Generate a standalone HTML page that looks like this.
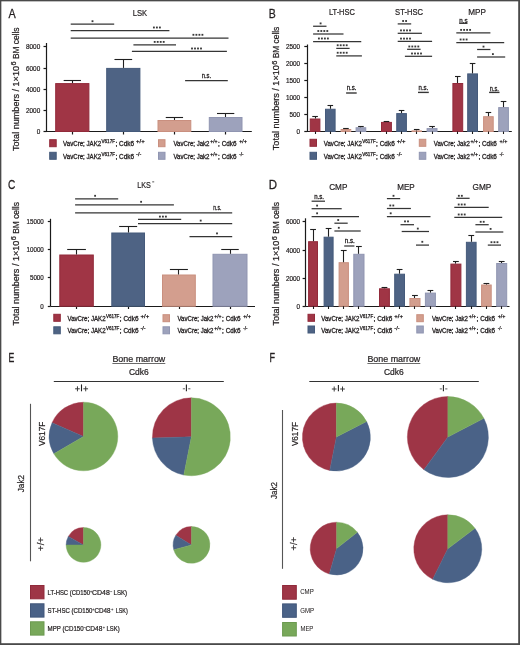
<!DOCTYPE html><html><head><meta charset="utf-8"><style>html,body{margin:0;padding:0;background:#fff;}svg{display:block;will-change:transform;font-family:"Liberation Sans",sans-serif;}</style></head><body>
<svg width="520" height="645" viewBox="0 0 520 645" font-family="Liberation Sans, sans-serif">
<rect x="0" y="0" width="520" height="645" fill="#fff"/>
<rect x="0" y="0" width="520" height="1.35" fill="#4a4a4a"/>
<rect x="0" y="0" width="1.35" height="645" fill="#4a4a4a"/>
<rect x="518.2" y="0" width="1.8" height="645" fill="#4a4a4a"/>
<rect x="0" y="643.2" width="520" height="1.8" fill="#4a4a4a"/>
<text x="8.4" y="17.5" font-size="13.2" text-anchor="start" fill="#231f20" stroke="#231f20" stroke-width="0.3" textLength="7.2" lengthAdjust="spacingAndGlyphs">A</text>
<text x="132.8" y="15.9" font-size="9.5" text-anchor="start" fill="#231f20" stroke="#231f20" stroke-width="0.22" textLength="14.4" lengthAdjust="spacingAndGlyphs">LSK</text>
<g transform="translate(18.6 151) rotate(-90)"><text x="0" y="0" font-size="9.8" fill="#231f20" stroke="#231f20" stroke-width="0.25" lengthAdjust="spacingAndGlyphs" textLength="85">Total numbers / 1×10</text><text x="85.4" y="-2.4" font-size="7.6" fill="#231f20" stroke="#231f20" stroke-width="0.25" lengthAdjust="spacingAndGlyphs" textLength="4.1">6</text><text x="91.9" y="0" font-size="9.8" fill="#231f20" stroke="#231f20" stroke-width="0.25" lengthAdjust="spacingAndGlyphs" textLength="31.6">BM cells</text></g>
<line x1="46.5" y1="43" x2="46.5" y2="131.5" stroke="#1a1a1a" stroke-width="1.2"/>
<line x1="43.5" y1="46.5" x2="46.5" y2="46.5" stroke="#1a1a1a" stroke-width="1.2"/>
<text x="40.2" y="49.349999999999994" font-size="7.1" text-anchor="end" fill="#231f20" stroke="#231f20" stroke-width="0.22" textLength="14.2" lengthAdjust="spacingAndGlyphs">8000</text>
<line x1="43.5" y1="68.5" x2="46.5" y2="68.5" stroke="#1a1a1a" stroke-width="1.2"/>
<text x="40.2" y="70.55" font-size="7.1" text-anchor="end" fill="#231f20" stroke="#231f20" stroke-width="0.22" textLength="14.2" lengthAdjust="spacingAndGlyphs">6000</text>
<line x1="43.5" y1="89.5" x2="46.5" y2="89.5" stroke="#1a1a1a" stroke-width="1.2"/>
<text x="40.2" y="91.75" font-size="7.1" text-anchor="end" fill="#231f20" stroke="#231f20" stroke-width="0.22" textLength="14.2" lengthAdjust="spacingAndGlyphs">4000</text>
<line x1="43.5" y1="110.5" x2="46.5" y2="110.5" stroke="#1a1a1a" stroke-width="1.2"/>
<text x="40.2" y="112.95" font-size="7.1" text-anchor="end" fill="#231f20" stroke="#231f20" stroke-width="0.22" textLength="14.2" lengthAdjust="spacingAndGlyphs">2000</text>
<line x1="43.5" y1="131.5" x2="46.5" y2="131.5" stroke="#1a1a1a" stroke-width="1.2"/>
<text x="40.2" y="134.05" font-size="7.1" text-anchor="end" fill="#231f20" stroke="#231f20" stroke-width="0.22" textLength="3.55" lengthAdjust="spacingAndGlyphs">0</text>
<line x1="46" y1="131.5" x2="251.8" y2="131.5" stroke="#1a1a1a" stroke-width="1.2"/>
<line x1="72.5" y1="131.5" x2="72.5" y2="134.5" stroke="#1a1a1a" stroke-width="1.2"/>
<line x1="123.5" y1="131.5" x2="123.5" y2="134.5" stroke="#1a1a1a" stroke-width="1.2"/>
<line x1="174.5" y1="131.5" x2="174.5" y2="134.5" stroke="#1a1a1a" stroke-width="1.2"/>
<line x1="225.5" y1="131.5" x2="225.5" y2="134.5" stroke="#1a1a1a" stroke-width="1.2"/>
<rect x="55.70" y="83.60" width="33.20" height="47.90" fill="#a03545" stroke="#922a3a" stroke-width="1"/>
<line x1="72.5" y1="80.2" x2="72.5" y2="83.1" stroke="#1f1f1f" stroke-width="1.1"/>
<line x1="63.65000000000001" y1="80.5" x2="80.95000000000002" y2="80.5" stroke="#1f1f1f" stroke-width="1.1"/>
<rect x="106.70" y="68.40" width="33.20" height="63.10" fill="#4e6384" stroke="#455a7b" stroke-width="1"/>
<line x1="123.5" y1="59.2" x2="123.5" y2="67.9" stroke="#1f1f1f" stroke-width="1.1"/>
<line x1="114.45000000000002" y1="59.5" x2="132.15" y2="59.5" stroke="#1f1f1f" stroke-width="1.1"/>
<rect x="158.00" y="120.50" width="32.80" height="11.00" fill="#d39e8e" stroke="#c98f7f" stroke-width="1"/>
<line x1="174.5" y1="117.5" x2="174.5" y2="120" stroke="#1f1f1f" stroke-width="1.1"/>
<line x1="165.75" y1="117.5" x2="183.05" y2="117.5" stroke="#1f1f1f" stroke-width="1.1"/>
<rect x="209.30" y="117.50" width="32.70" height="14.00" fill="#9da2bc" stroke="#9095b1" stroke-width="1"/>
<line x1="225.5" y1="113.3" x2="225.5" y2="117" stroke="#1f1f1f" stroke-width="1.1"/>
<line x1="217.0" y1="113.5" x2="234.3" y2="113.5" stroke="#1f1f1f" stroke-width="1.1"/>
<line x1="70.7" y1="24.2" x2="114.2" y2="24.2" stroke="#353535" stroke-width="1.25"/>
<rect x="91.58" y="20.28" width="1.84" height="1.84" fill="#3a3a3a"/>
<line x1="70.7" y1="30.5" x2="169.4" y2="30.5" stroke="#353535" stroke-width="1.25"/>
<rect x="152.98" y="26.58" width="1.84" height="1.84" fill="#3a3a3a"/>
<rect x="155.98" y="26.58" width="1.84" height="1.84" fill="#3a3a3a"/>
<rect x="158.98" y="26.58" width="1.84" height="1.84" fill="#3a3a3a"/>
<line x1="70.7" y1="38.0" x2="228.5" y2="38.0" stroke="#353535" stroke-width="1.25"/>
<rect x="192.48" y="33.88" width="1.84" height="1.84" fill="#3a3a3a"/>
<rect x="195.48" y="33.88" width="1.84" height="1.84" fill="#3a3a3a"/>
<rect x="198.48" y="33.88" width="1.84" height="1.84" fill="#3a3a3a"/>
<rect x="201.48" y="33.88" width="1.84" height="1.84" fill="#3a3a3a"/>
<line x1="133.4" y1="44.8" x2="176" y2="44.8" stroke="#353535" stroke-width="1.25"/>
<rect x="153.78" y="40.98" width="1.84" height="1.84" fill="#3a3a3a"/>
<rect x="156.78" y="40.98" width="1.84" height="1.84" fill="#3a3a3a"/>
<rect x="159.78" y="40.98" width="1.84" height="1.84" fill="#3a3a3a"/>
<rect x="162.78" y="40.98" width="1.84" height="1.84" fill="#3a3a3a"/>
<line x1="131.9" y1="51.3" x2="226.9" y2="51.3" stroke="#353535" stroke-width="1.25"/>
<rect x="191.08" y="47.58" width="1.84" height="1.84" fill="#3a3a3a"/>
<rect x="194.08" y="47.58" width="1.84" height="1.84" fill="#3a3a3a"/>
<rect x="197.08" y="47.58" width="1.84" height="1.84" fill="#3a3a3a"/>
<rect x="200.08" y="47.58" width="1.84" height="1.84" fill="#3a3a3a"/>
<line x1="185.1" y1="80.6" x2="227.8" y2="80.6" stroke="#353535" stroke-width="1.25"/>
<text x="206.35" y="78.2" font-size="6.7" text-anchor="middle" fill="#231f20" stroke="#231f20" stroke-width="0.3" textLength="9.3" lengthAdjust="spacingAndGlyphs">n.s.</text>
<rect x="49.70" y="139.70" width="6.50" height="7.00" fill="#a03545" stroke="#922a3a" stroke-width="1"/>
<text x="63.1" y="146" font-size="6.6" text-anchor="start" fill="#231f20" stroke="#231f20" stroke-width="0.3" textLength="38.1" lengthAdjust="spacingAndGlyphs">VavCre; JAK2</text>
<text x="101.5" y="143" font-size="4.6" text-anchor="start" fill="#231f20" stroke="#231f20" stroke-width="0.25" textLength="13.5" lengthAdjust="spacingAndGlyphs">V617F</text>
<text x="115.4" y="146" font-size="6.6" text-anchor="start" fill="#231f20" stroke="#231f20" stroke-width="0.3" textLength="18.7" lengthAdjust="spacingAndGlyphs">; Cdk6</text>
<text x="136.1" y="143" font-size="4.6" text-anchor="start" fill="#231f20" stroke="#231f20" stroke-width="0.25" textLength="8.7" lengthAdjust="spacingAndGlyphs">+/+</text>
<rect x="49.70" y="152.30" width="6.50" height="7.00" fill="#4e6384" stroke="#455a7b" stroke-width="1"/>
<text x="63.1" y="158.5" font-size="6.6" text-anchor="start" fill="#231f20" stroke="#231f20" stroke-width="0.3" textLength="38.1" lengthAdjust="spacingAndGlyphs">VavCre; JAK2</text>
<text x="101.5" y="155.5" font-size="4.6" text-anchor="start" fill="#231f20" stroke="#231f20" stroke-width="0.25" textLength="13.5" lengthAdjust="spacingAndGlyphs">V617F</text>
<text x="115.4" y="158.5" font-size="6.6" text-anchor="start" fill="#231f20" stroke="#231f20" stroke-width="0.3" textLength="18.7" lengthAdjust="spacingAndGlyphs">; Cdk6</text>
<text x="136.1" y="155.5" font-size="4.6" text-anchor="start" fill="#231f20" stroke="#231f20" stroke-width="0.25" textLength="5.2" lengthAdjust="spacingAndGlyphs">-/-</text>
<rect x="158.50" y="139.70" width="6.50" height="7.00" fill="#d39e8e" stroke="#c98f7f" stroke-width="1"/>
<text x="173.5" y="146" font-size="6.6" text-anchor="start" fill="#231f20" stroke="#231f20" stroke-width="0.3" textLength="36" lengthAdjust="spacingAndGlyphs">VavCre; Jak2</text>
<text x="210.2" y="143" font-size="4.6" text-anchor="start" fill="#231f20" stroke="#231f20" stroke-width="0.25" textLength="7.4" lengthAdjust="spacingAndGlyphs">+/+</text>
<text x="218.1" y="146" font-size="6.6" text-anchor="start" fill="#231f20" stroke="#231f20" stroke-width="0.3" textLength="18.5" lengthAdjust="spacingAndGlyphs">; Cdk6</text>
<text x="239.2" y="143" font-size="4.6" text-anchor="start" fill="#231f20" stroke="#231f20" stroke-width="0.25" textLength="7.8" lengthAdjust="spacingAndGlyphs">+/+</text>
<rect x="158.50" y="152.30" width="6.50" height="7.00" fill="#9da2bc" stroke="#9095b1" stroke-width="1"/>
<text x="173.5" y="158.5" font-size="6.6" text-anchor="start" fill="#231f20" stroke="#231f20" stroke-width="0.3" textLength="36" lengthAdjust="spacingAndGlyphs">VavCre; Jak2</text>
<text x="210.2" y="155.5" font-size="4.6" text-anchor="start" fill="#231f20" stroke="#231f20" stroke-width="0.25" textLength="7.4" lengthAdjust="spacingAndGlyphs">+/+</text>
<text x="218.1" y="158.5" font-size="6.6" text-anchor="start" fill="#231f20" stroke="#231f20" stroke-width="0.3" textLength="18.5" lengthAdjust="spacingAndGlyphs">; Cdk6</text>
<text x="239.2" y="155.5" font-size="4.6" text-anchor="start" fill="#231f20" stroke="#231f20" stroke-width="0.25" textLength="4.3" lengthAdjust="spacingAndGlyphs">-/-</text>
<text x="268.7" y="17.5" font-size="13.2" text-anchor="start" fill="#231f20" stroke="#231f20" stroke-width="0.3" textLength="7" lengthAdjust="spacingAndGlyphs">B</text>
<text x="328.9" y="15.2" font-size="9.4" text-anchor="start" fill="#231f20" stroke="#231f20" stroke-width="0.22" textLength="26" lengthAdjust="spacingAndGlyphs">LT-HSC</text>
<text x="395.1" y="15.2" font-size="9.4" text-anchor="start" fill="#231f20" stroke="#231f20" stroke-width="0.22" textLength="27.9" lengthAdjust="spacingAndGlyphs">ST-HSC</text>
<text x="468.2" y="15.2" font-size="9.4" text-anchor="start" fill="#231f20" stroke="#231f20" stroke-width="0.22" textLength="17.7" lengthAdjust="spacingAndGlyphs">MPP</text>
<g transform="translate(278.9 150.2) rotate(-90)"><text x="0" y="0" font-size="9.8" fill="#231f20" stroke="#231f20" stroke-width="0.25" lengthAdjust="spacingAndGlyphs" textLength="85">Total numbers / 1×10</text><text x="85.4" y="-2.4" font-size="7.6" fill="#231f20" stroke="#231f20" stroke-width="0.25" lengthAdjust="spacingAndGlyphs" textLength="4.1">6</text><text x="91.9" y="0" font-size="9.8" fill="#231f20" stroke="#231f20" stroke-width="0.25" lengthAdjust="spacingAndGlyphs" textLength="31.6">BM cells</text></g>
<line x1="307.5" y1="44.5" x2="307.5" y2="131.5" stroke="#1a1a1a" stroke-width="1.2"/>
<line x1="304.3" y1="46.5" x2="307.3" y2="46.5" stroke="#1a1a1a" stroke-width="1.2"/>
<text x="300.1" y="49.05" font-size="7.1" text-anchor="end" fill="#231f20" stroke="#231f20" stroke-width="0.22" textLength="14.2" lengthAdjust="spacingAndGlyphs">2500</text>
<line x1="304.3" y1="63.5" x2="307.3" y2="63.5" stroke="#1a1a1a" stroke-width="1.2"/>
<text x="300.1" y="66.05" font-size="7.1" text-anchor="end" fill="#231f20" stroke="#231f20" stroke-width="0.22" textLength="14.2" lengthAdjust="spacingAndGlyphs">2000</text>
<line x1="304.3" y1="80.5" x2="307.3" y2="80.5" stroke="#1a1a1a" stroke-width="1.2"/>
<text x="300.1" y="83.05" font-size="7.1" text-anchor="end" fill="#231f20" stroke="#231f20" stroke-width="0.22" textLength="14.2" lengthAdjust="spacingAndGlyphs">1500</text>
<line x1="304.3" y1="97.5" x2="307.3" y2="97.5" stroke="#1a1a1a" stroke-width="1.2"/>
<text x="300.1" y="100.05" font-size="7.1" text-anchor="end" fill="#231f20" stroke="#231f20" stroke-width="0.22" textLength="14.2" lengthAdjust="spacingAndGlyphs">1000</text>
<line x1="304.3" y1="114.5" x2="307.3" y2="114.5" stroke="#1a1a1a" stroke-width="1.2"/>
<text x="300.1" y="117.05" font-size="7.1" text-anchor="end" fill="#231f20" stroke="#231f20" stroke-width="0.22" textLength="10.649999999999999" lengthAdjust="spacingAndGlyphs">500</text>
<line x1="304.3" y1="131.5" x2="307.3" y2="131.5" stroke="#1a1a1a" stroke-width="1.2"/>
<text x="300.1" y="133.85000000000002" font-size="7.1" text-anchor="end" fill="#231f20" stroke="#231f20" stroke-width="0.22" textLength="3.55" lengthAdjust="spacingAndGlyphs">0</text>
<line x1="307" y1="131.5" x2="511.8" y2="131.5" stroke="#1a1a1a" stroke-width="1.2"/>
<rect x="310.25" y="119.00" width="9.65" height="12.50" fill="#a03545" stroke="#922a3a" stroke-width="1"/>
<line x1="315.5" y1="116.9" x2="315.5" y2="118.5" stroke="#1f1f1f" stroke-width="1.1"/>
<line x1="312.275" y1="116.5" x2="317.875" y2="116.5" stroke="#1f1f1f" stroke-width="1.1"/>
<line x1="315.5" y1="131.5" x2="315.5" y2="134" stroke="#1a1a1a" stroke-width="1.1"/>
<rect x="325.50" y="109.25" width="9.60" height="22.25" fill="#4e6384" stroke="#455a7b" stroke-width="1"/>
<line x1="330.5" y1="105.25" x2="330.5" y2="108.75" stroke="#1f1f1f" stroke-width="1.1"/>
<line x1="327.5" y1="105.5" x2="333.1" y2="105.5" stroke="#1f1f1f" stroke-width="1.1"/>
<line x1="330.5" y1="131.5" x2="330.5" y2="134" stroke="#1a1a1a" stroke-width="1.1"/>
<rect x="341.10" y="129.50" width="9.65" height="2.00" fill="#d39e8e" stroke="#c98f7f" stroke-width="1"/>
<line x1="345.5" y1="128.1" x2="345.5" y2="129" stroke="#1f1f1f" stroke-width="1.1"/>
<line x1="343.125" y1="128.5" x2="348.725" y2="128.5" stroke="#1f1f1f" stroke-width="1.1"/>
<line x1="345.5" y1="131.5" x2="345.5" y2="134" stroke="#1a1a1a" stroke-width="1.1"/>
<rect x="356.10" y="127.75" width="9.65" height="3.75" fill="#9da2bc" stroke="#9095b1" stroke-width="1"/>
<line x1="360.5" y1="126.25" x2="360.5" y2="127.25" stroke="#1f1f1f" stroke-width="1.1"/>
<line x1="358.125" y1="126.5" x2="363.725" y2="126.5" stroke="#1f1f1f" stroke-width="1.1"/>
<line x1="360.5" y1="131.5" x2="360.5" y2="134" stroke="#1a1a1a" stroke-width="1.1"/>
<rect x="381.50" y="122.40" width="9.90" height="9.10" fill="#a03545" stroke="#922a3a" stroke-width="1"/>
<line x1="386.5" y1="121.25" x2="386.5" y2="121.9" stroke="#1f1f1f" stroke-width="1.1"/>
<line x1="383.65" y1="121.5" x2="389.25" y2="121.5" stroke="#1f1f1f" stroke-width="1.1"/>
<line x1="386.5" y1="131.5" x2="386.5" y2="134" stroke="#1a1a1a" stroke-width="1.1"/>
<rect x="396.75" y="113.60" width="9.65" height="17.90" fill="#4e6384" stroke="#455a7b" stroke-width="1"/>
<line x1="401.5" y1="110.9" x2="401.5" y2="113.1" stroke="#1f1f1f" stroke-width="1.1"/>
<line x1="398.775" y1="110.5" x2="404.375" y2="110.5" stroke="#1f1f1f" stroke-width="1.1"/>
<line x1="401.5" y1="131.5" x2="401.5" y2="134" stroke="#1a1a1a" stroke-width="1.1"/>
<rect x="412.00" y="130.90" width="9.40" height="0.60" fill="#d39e8e" stroke="#c98f7f" stroke-width="1"/>
<line x1="416.5" y1="129" x2="416.5" y2="130.4" stroke="#1f1f1f" stroke-width="1.1"/>
<line x1="413.9" y1="129.5" x2="419.5" y2="129.5" stroke="#1f1f1f" stroke-width="1.1"/>
<line x1="416.5" y1="131.5" x2="416.5" y2="134" stroke="#1a1a1a" stroke-width="1.1"/>
<rect x="427.10" y="128.60" width="9.90" height="2.90" fill="#9da2bc" stroke="#9095b1" stroke-width="1"/>
<line x1="432.5" y1="126.9" x2="432.5" y2="128.1" stroke="#1f1f1f" stroke-width="1.1"/>
<line x1="429.25" y1="126.5" x2="434.85" y2="126.5" stroke="#1f1f1f" stroke-width="1.1"/>
<line x1="432.5" y1="131.5" x2="432.5" y2="134" stroke="#1a1a1a" stroke-width="1.1"/>
<rect x="452.90" y="83.50" width="9.80" height="48.00" fill="#a03545" stroke="#922a3a" stroke-width="1"/>
<line x1="457.5" y1="76.3" x2="457.5" y2="83" stroke="#1f1f1f" stroke-width="1.1"/>
<line x1="454.99999999999994" y1="76.5" x2="460.59999999999997" y2="76.5" stroke="#1f1f1f" stroke-width="1.1"/>
<line x1="457.5" y1="131.5" x2="457.5" y2="134" stroke="#1a1a1a" stroke-width="1.1"/>
<rect x="467.70" y="73.90" width="9.80" height="57.60" fill="#4e6384" stroke="#455a7b" stroke-width="1"/>
<line x1="472.5" y1="63.3" x2="472.5" y2="73.4" stroke="#1f1f1f" stroke-width="1.1"/>
<line x1="469.8" y1="63.5" x2="475.40000000000003" y2="63.5" stroke="#1f1f1f" stroke-width="1.1"/>
<line x1="472.5" y1="131.5" x2="472.5" y2="134" stroke="#1a1a1a" stroke-width="1.1"/>
<rect x="483.60" y="116.70" width="9.60" height="14.80" fill="#d39e8e" stroke="#c98f7f" stroke-width="1"/>
<line x1="488.5" y1="112.6" x2="488.5" y2="116.2" stroke="#1f1f1f" stroke-width="1.1"/>
<line x1="485.59999999999997" y1="112.5" x2="491.2" y2="112.5" stroke="#1f1f1f" stroke-width="1.1"/>
<line x1="488.5" y1="131.5" x2="488.5" y2="134" stroke="#1a1a1a" stroke-width="1.1"/>
<rect x="498.70" y="107.60" width="9.70" height="23.90" fill="#9da2bc" stroke="#9095b1" stroke-width="1"/>
<line x1="503.5" y1="101.7" x2="503.5" y2="107.1" stroke="#1f1f1f" stroke-width="1.1"/>
<line x1="500.74999999999994" y1="101.5" x2="506.34999999999997" y2="101.5" stroke="#1f1f1f" stroke-width="1.1"/>
<line x1="503.5" y1="131.5" x2="503.5" y2="134" stroke="#1a1a1a" stroke-width="1.1"/>
<line x1="313.1" y1="26.25" x2="326.5" y2="26.25" stroke="#353535" stroke-width="1.25"/>
<rect x="319.68" y="22.48" width="1.84" height="1.84" fill="#3a3a3a"/>
<line x1="313.1" y1="34" x2="343.5" y2="34" stroke="#353535" stroke-width="1.25"/>
<rect x="317.38" y="30.08" width="1.84" height="1.84" fill="#3a3a3a"/>
<rect x="320.38" y="30.08" width="1.84" height="1.84" fill="#3a3a3a"/>
<rect x="323.38" y="30.08" width="1.84" height="1.84" fill="#3a3a3a"/>
<rect x="326.38" y="30.08" width="1.84" height="1.84" fill="#3a3a3a"/>
<line x1="313.1" y1="41.5" x2="361.25" y2="41.5" stroke="#353535" stroke-width="1.25"/>
<rect x="317.98" y="37.58" width="1.84" height="1.84" fill="#3a3a3a"/>
<rect x="320.98" y="37.58" width="1.84" height="1.84" fill="#3a3a3a"/>
<rect x="323.98" y="37.58" width="1.84" height="1.84" fill="#3a3a3a"/>
<rect x="326.98" y="37.58" width="1.84" height="1.84" fill="#3a3a3a"/>
<line x1="336.25" y1="48.4" x2="349.6" y2="48.4" stroke="#353535" stroke-width="1.25"/>
<rect x="336.78" y="44.33" width="1.84" height="1.84" fill="#3a3a3a"/>
<rect x="339.78" y="44.33" width="1.84" height="1.84" fill="#3a3a3a"/>
<rect x="342.78" y="44.33" width="1.84" height="1.84" fill="#3a3a3a"/>
<rect x="345.78" y="44.33" width="1.84" height="1.84" fill="#3a3a3a"/>
<line x1="336.25" y1="55.9" x2="361.9" y2="55.9" stroke="#353535" stroke-width="1.25"/>
<rect x="336.78" y="51.83" width="1.84" height="1.84" fill="#3a3a3a"/>
<rect x="339.78" y="51.83" width="1.84" height="1.84" fill="#3a3a3a"/>
<rect x="342.78" y="51.83" width="1.84" height="1.84" fill="#3a3a3a"/>
<rect x="345.78" y="51.83" width="1.84" height="1.84" fill="#3a3a3a"/>
<line x1="346.1" y1="93" x2="356.7" y2="93" stroke="#353535" stroke-width="1.4"/>
<text x="351.6" y="90.4" font-size="6.8" text-anchor="middle" fill="#231f20" stroke="#231f20" stroke-width="0.3" textLength="9.8" lengthAdjust="spacingAndGlyphs">n.s.</text>
<line x1="397.7" y1="23.9" x2="411.2" y2="23.9" stroke="#353535" stroke-width="1.25"/>
<rect x="402.18" y="20.08" width="1.84" height="1.84" fill="#3a3a3a"/>
<rect x="405.18" y="20.08" width="1.84" height="1.84" fill="#3a3a3a"/>
<line x1="397.7" y1="33.3" x2="421.9" y2="33.3" stroke="#353535" stroke-width="1.25"/>
<rect x="400.08" y="29.48" width="1.84" height="1.84" fill="#3a3a3a"/>
<rect x="403.08" y="29.48" width="1.84" height="1.84" fill="#3a3a3a"/>
<rect x="406.08" y="29.48" width="1.84" height="1.84" fill="#3a3a3a"/>
<rect x="409.08" y="29.48" width="1.84" height="1.84" fill="#3a3a3a"/>
<line x1="397.7" y1="41.4" x2="432.1" y2="41.4" stroke="#353535" stroke-width="1.25"/>
<rect x="400.08" y="37.68" width="1.84" height="1.84" fill="#3a3a3a"/>
<rect x="403.08" y="37.68" width="1.84" height="1.84" fill="#3a3a3a"/>
<rect x="406.08" y="37.68" width="1.84" height="1.84" fill="#3a3a3a"/>
<rect x="409.08" y="37.68" width="1.84" height="1.84" fill="#3a3a3a"/>
<line x1="407.1" y1="49.3" x2="420.6" y2="49.3" stroke="#353535" stroke-width="1.25"/>
<rect x="408.38" y="45.58" width="1.84" height="1.84" fill="#3a3a3a"/>
<rect x="411.38" y="45.58" width="1.84" height="1.84" fill="#3a3a3a"/>
<rect x="414.38" y="45.58" width="1.84" height="1.84" fill="#3a3a3a"/>
<rect x="417.38" y="45.58" width="1.84" height="1.84" fill="#3a3a3a"/>
<line x1="404.9" y1="56.3" x2="432.1" y2="56.3" stroke="#353535" stroke-width="1.25"/>
<rect x="411.08" y="52.58" width="1.84" height="1.84" fill="#3a3a3a"/>
<rect x="414.08" y="52.58" width="1.84" height="1.84" fill="#3a3a3a"/>
<rect x="417.08" y="52.58" width="1.84" height="1.84" fill="#3a3a3a"/>
<rect x="420.08" y="52.58" width="1.84" height="1.84" fill="#3a3a3a"/>
<line x1="418" y1="92.4" x2="428.8" y2="92.4" stroke="#353535" stroke-width="1.4"/>
<text x="423.4" y="90.0" font-size="6.8" text-anchor="middle" fill="#231f20" stroke="#231f20" stroke-width="0.3" textLength="9.8" lengthAdjust="spacingAndGlyphs">n.s.</text>
<line x1="459.2" y1="23.4" x2="467.5" y2="23.4" stroke="#353535" stroke-width="1.1"/>
<text x="463.35" y="22.6" font-size="6.6" text-anchor="middle" fill="#231f20" stroke="#231f20" stroke-width="0.3" textLength="8.3" lengthAdjust="spacingAndGlyphs">n.s</text>
<line x1="456.3" y1="32.8" x2="490.4" y2="32.8" stroke="#353535" stroke-width="1.25"/>
<rect x="460.18" y="28.98" width="1.84" height="1.84" fill="#3a3a3a"/>
<rect x="463.18" y="28.98" width="1.84" height="1.84" fill="#3a3a3a"/>
<rect x="466.18" y="28.98" width="1.84" height="1.84" fill="#3a3a3a"/>
<rect x="469.18" y="28.98" width="1.84" height="1.84" fill="#3a3a3a"/>
<line x1="456.3" y1="42.6" x2="504.2" y2="42.6" stroke="#353535" stroke-width="1.25"/>
<rect x="459.68" y="38.58" width="1.84" height="1.84" fill="#3a3a3a"/>
<rect x="462.68" y="38.58" width="1.84" height="1.84" fill="#3a3a3a"/>
<rect x="465.68" y="38.58" width="1.84" height="1.84" fill="#3a3a3a"/>
<line x1="477.1" y1="49.5" x2="490.4" y2="49.5" stroke="#353535" stroke-width="1.25"/>
<rect x="482.58" y="45.68" width="1.84" height="1.84" fill="#3a3a3a"/>
<line x1="477.1" y1="57" x2="505.2" y2="57" stroke="#353535" stroke-width="1.25"/>
<rect x="491.98" y="53.18" width="1.84" height="1.84" fill="#3a3a3a"/>
<line x1="489.1" y1="92.4" x2="499.5" y2="92.4" stroke="#353535" stroke-width="1.4"/>
<text x="494.3" y="90.7" font-size="6.6" text-anchor="middle" fill="#231f20" stroke="#231f20" stroke-width="0.3" textLength="9" lengthAdjust="spacingAndGlyphs">n.s.</text>
<rect x="310.00" y="139.30" width="6.50" height="7.00" fill="#a03545" stroke="#922a3a" stroke-width="1"/>
<text x="323.8" y="146" font-size="6.6" text-anchor="start" fill="#231f20" stroke="#231f20" stroke-width="0.3" textLength="38.1" lengthAdjust="spacingAndGlyphs">VavCre; JAK2</text>
<text x="362.2" y="143" font-size="4.6" text-anchor="start" fill="#231f20" stroke="#231f20" stroke-width="0.25" textLength="13.5" lengthAdjust="spacingAndGlyphs">V617F</text>
<text x="376.1" y="146" font-size="6.6" text-anchor="start" fill="#231f20" stroke="#231f20" stroke-width="0.3" textLength="18.7" lengthAdjust="spacingAndGlyphs">; Cdk6</text>
<text x="396.8" y="143" font-size="4.6" text-anchor="start" fill="#231f20" stroke="#231f20" stroke-width="0.25" textLength="8.7" lengthAdjust="spacingAndGlyphs">+/+</text>
<rect x="310.00" y="152.30" width="6.50" height="7.00" fill="#4e6384" stroke="#455a7b" stroke-width="1"/>
<text x="323.8" y="158.5" font-size="6.6" text-anchor="start" fill="#231f20" stroke="#231f20" stroke-width="0.3" textLength="38.1" lengthAdjust="spacingAndGlyphs">VavCre; JAK2</text>
<text x="362.2" y="155.5" font-size="4.6" text-anchor="start" fill="#231f20" stroke="#231f20" stroke-width="0.25" textLength="13.5" lengthAdjust="spacingAndGlyphs">V617F</text>
<text x="376.1" y="158.5" font-size="6.6" text-anchor="start" fill="#231f20" stroke="#231f20" stroke-width="0.3" textLength="18.7" lengthAdjust="spacingAndGlyphs">; Cdk6</text>
<text x="396.8" y="155.5" font-size="4.6" text-anchor="start" fill="#231f20" stroke="#231f20" stroke-width="0.25" textLength="5.2" lengthAdjust="spacingAndGlyphs">-/-</text>
<rect x="419.30" y="139.30" width="6.50" height="7.00" fill="#d39e8e" stroke="#c98f7f" stroke-width="1"/>
<text x="433.8" y="146" font-size="6.6" text-anchor="start" fill="#231f20" stroke="#231f20" stroke-width="0.3" textLength="36" lengthAdjust="spacingAndGlyphs">VavCre; Jak2</text>
<text x="470.5" y="143" font-size="4.6" text-anchor="start" fill="#231f20" stroke="#231f20" stroke-width="0.25" textLength="7.4" lengthAdjust="spacingAndGlyphs">+/+</text>
<text x="478.40000000000003" y="146" font-size="6.6" text-anchor="start" fill="#231f20" stroke="#231f20" stroke-width="0.3" textLength="18.5" lengthAdjust="spacingAndGlyphs">; Cdk6</text>
<text x="499.5" y="143" font-size="4.6" text-anchor="start" fill="#231f20" stroke="#231f20" stroke-width="0.25" textLength="7.8" lengthAdjust="spacingAndGlyphs">+/+</text>
<rect x="419.30" y="152.30" width="6.50" height="7.00" fill="#9da2bc" stroke="#9095b1" stroke-width="1"/>
<text x="433.8" y="158.5" font-size="6.6" text-anchor="start" fill="#231f20" stroke="#231f20" stroke-width="0.3" textLength="36" lengthAdjust="spacingAndGlyphs">VavCre; Jak2</text>
<text x="470.5" y="155.5" font-size="4.6" text-anchor="start" fill="#231f20" stroke="#231f20" stroke-width="0.25" textLength="7.4" lengthAdjust="spacingAndGlyphs">+/+</text>
<text x="478.40000000000003" y="158.5" font-size="6.6" text-anchor="start" fill="#231f20" stroke="#231f20" stroke-width="0.3" textLength="18.5" lengthAdjust="spacingAndGlyphs">; Cdk6</text>
<text x="499.5" y="155.5" font-size="4.6" text-anchor="start" fill="#231f20" stroke="#231f20" stroke-width="0.25" textLength="4.3" lengthAdjust="spacingAndGlyphs">-/-</text>
<text x="8.1" y="188.6" font-size="13.2" text-anchor="start" fill="#231f20" stroke="#231f20" stroke-width="0.3" textLength="7.3" lengthAdjust="spacingAndGlyphs">C</text>
<text x="137.3" y="188.1" font-size="9.3" text-anchor="start" fill="#231f20" stroke="#231f20" stroke-width="0.2" textLength="13.6" lengthAdjust="spacingAndGlyphs">LKS</text>
<rect x="152.2" y="181.3" width="2" height="1.1" fill="#666"/>
<g transform="translate(18.6 325.6) rotate(-90)"><text x="0" y="0" font-size="9.8" fill="#231f20" stroke="#231f20" stroke-width="0.25" lengthAdjust="spacingAndGlyphs" textLength="85">Total numbers / 1×10</text><text x="85.4" y="-2.4" font-size="7.6" fill="#231f20" stroke="#231f20" stroke-width="0.25" lengthAdjust="spacingAndGlyphs" textLength="4.1">6</text><text x="91.9" y="0" font-size="9.8" fill="#231f20" stroke="#231f20" stroke-width="0.25" lengthAdjust="spacingAndGlyphs" textLength="31.6">BM cells</text></g>
<line x1="50.5" y1="218.8" x2="50.5" y2="306.2" stroke="#1a1a1a" stroke-width="1.2"/>
<line x1="47.8" y1="221.5" x2="50.8" y2="221.5" stroke="#1a1a1a" stroke-width="1.2"/>
<text x="43.8" y="223.85000000000002" font-size="7.1" text-anchor="end" fill="#231f20" stroke="#231f20" stroke-width="0.22" textLength="17.3" lengthAdjust="spacingAndGlyphs">15000</text>
<line x1="47.8" y1="249.5" x2="50.8" y2="249.5" stroke="#1a1a1a" stroke-width="1.2"/>
<text x="43.8" y="252.05" font-size="7.1" text-anchor="end" fill="#231f20" stroke="#231f20" stroke-width="0.22" textLength="17.3" lengthAdjust="spacingAndGlyphs">10000</text>
<line x1="47.8" y1="277.5" x2="50.8" y2="277.5" stroke="#1a1a1a" stroke-width="1.2"/>
<text x="43.8" y="280.05" font-size="7.1" text-anchor="end" fill="#231f20" stroke="#231f20" stroke-width="0.22" textLength="13.84" lengthAdjust="spacingAndGlyphs">5000</text>
<line x1="47.8" y1="306.5" x2="50.8" y2="306.5" stroke="#1a1a1a" stroke-width="1.2"/>
<text x="43.8" y="308.75" font-size="7.1" text-anchor="end" fill="#231f20" stroke="#231f20" stroke-width="0.22" textLength="3.46" lengthAdjust="spacingAndGlyphs">0</text>
<line x1="51" y1="306.5" x2="255" y2="306.5" stroke="#1a1a1a" stroke-width="1.2"/>
<line x1="76.5" y1="306.2" x2="76.5" y2="309" stroke="#1a1a1a" stroke-width="1.2"/>
<line x1="128.5" y1="306.2" x2="128.5" y2="309" stroke="#1a1a1a" stroke-width="1.2"/>
<line x1="179.5" y1="306.2" x2="179.5" y2="309" stroke="#1a1a1a" stroke-width="1.2"/>
<line x1="230.5" y1="306.2" x2="230.5" y2="309" stroke="#1a1a1a" stroke-width="1.2"/>
<rect x="59.80" y="255.00" width="33.50" height="51.20" fill="#a03545" stroke="#922a3a" stroke-width="1"/>
<line x1="76.5" y1="249.3" x2="76.5" y2="254.5" stroke="#1f1f1f" stroke-width="1.1"/>
<line x1="67.2" y1="249.5" x2="85.89999999999999" y2="249.5" stroke="#1f1f1f" stroke-width="1.1"/>
<rect x="111.80" y="233.00" width="32.70" height="73.20" fill="#4e6384" stroke="#455a7b" stroke-width="1"/>
<line x1="128.5" y1="226.3" x2="128.5" y2="232.5" stroke="#1f1f1f" stroke-width="1.1"/>
<line x1="119.15" y1="226.5" x2="137.15" y2="226.5" stroke="#1f1f1f" stroke-width="1.1"/>
<rect x="162.50" y="275.00" width="32.80" height="31.20" fill="#d39e8e" stroke="#c98f7f" stroke-width="1"/>
<line x1="178.5" y1="269.3" x2="178.5" y2="274.5" stroke="#1f1f1f" stroke-width="1.1"/>
<line x1="169.9" y1="269.5" x2="187.9" y2="269.5" stroke="#1f1f1f" stroke-width="1.1"/>
<rect x="213.00" y="254.30" width="34.00" height="51.90" fill="#9da2bc" stroke="#9095b1" stroke-width="1"/>
<line x1="230.5" y1="249.3" x2="230.5" y2="253.8" stroke="#1f1f1f" stroke-width="1.1"/>
<line x1="221.25" y1="249.5" x2="238.75" y2="249.5" stroke="#1f1f1f" stroke-width="1.1"/>
<line x1="75.1" y1="198.9" x2="118.2" y2="198.9" stroke="#353535" stroke-width="1.25"/>
<rect x="94.18" y="194.88" width="1.84" height="1.84" fill="#3a3a3a"/>
<line x1="75.1" y1="204.9" x2="173.9" y2="204.9" stroke="#353535" stroke-width="1.25"/>
<rect x="140.18" y="200.88" width="1.84" height="1.84" fill="#3a3a3a"/>
<line x1="75.1" y1="212.9" x2="232.2" y2="212.9" stroke="#353535" stroke-width="1.25"/>
<text x="217.25" y="210.29999999999998" font-size="6.7" text-anchor="middle" fill="#231f20" stroke="#231f20" stroke-width="0.3" textLength="8.1" lengthAdjust="spacingAndGlyphs">n.s.</text>
<line x1="138" y1="219.4" x2="181.2" y2="219.4" stroke="#353535" stroke-width="1.25"/>
<rect x="158.98" y="215.68" width="1.84" height="1.84" fill="#3a3a3a"/>
<rect x="161.98" y="215.68" width="1.84" height="1.84" fill="#3a3a3a"/>
<rect x="164.98" y="215.68" width="1.84" height="1.84" fill="#3a3a3a"/>
<line x1="138" y1="223.6" x2="232.2" y2="223.6" stroke="#353535" stroke-width="1.25"/>
<rect x="199.78" y="219.68" width="1.84" height="1.84" fill="#3a3a3a"/>
<line x1="189.5" y1="236.5" x2="232.2" y2="236.5" stroke="#353535" stroke-width="1.25"/>
<rect x="216.08" y="232.48" width="1.84" height="1.84" fill="#3a3a3a"/>
<rect x="53.80" y="314.30" width="6.50" height="7.00" fill="#a03545" stroke="#922a3a" stroke-width="1"/>
<text x="67.5" y="320.8" font-size="6.6" text-anchor="start" fill="#231f20" stroke="#231f20" stroke-width="0.3" textLength="38.1" lengthAdjust="spacingAndGlyphs">VavCre; JAK2</text>
<text x="105.9" y="317.8" font-size="4.6" text-anchor="start" fill="#231f20" stroke="#231f20" stroke-width="0.25" textLength="13.5" lengthAdjust="spacingAndGlyphs">V617F</text>
<text x="119.8" y="320.8" font-size="6.6" text-anchor="start" fill="#231f20" stroke="#231f20" stroke-width="0.3" textLength="18.7" lengthAdjust="spacingAndGlyphs">; Cdk6</text>
<text x="140.5" y="317.8" font-size="4.6" text-anchor="start" fill="#231f20" stroke="#231f20" stroke-width="0.25" textLength="8.7" lengthAdjust="spacingAndGlyphs">+/+</text>
<rect x="53.80" y="326.80" width="6.50" height="7.00" fill="#4e6384" stroke="#455a7b" stroke-width="1"/>
<text x="67.5" y="333.3" font-size="6.6" text-anchor="start" fill="#231f20" stroke="#231f20" stroke-width="0.3" textLength="38.1" lengthAdjust="spacingAndGlyphs">VavCre; JAK2</text>
<text x="105.9" y="330.3" font-size="4.6" text-anchor="start" fill="#231f20" stroke="#231f20" stroke-width="0.25" textLength="13.5" lengthAdjust="spacingAndGlyphs">V617F</text>
<text x="119.8" y="333.3" font-size="6.6" text-anchor="start" fill="#231f20" stroke="#231f20" stroke-width="0.3" textLength="18.7" lengthAdjust="spacingAndGlyphs">; Cdk6</text>
<text x="140.5" y="330.3" font-size="4.6" text-anchor="start" fill="#231f20" stroke="#231f20" stroke-width="0.25" textLength="5.2" lengthAdjust="spacingAndGlyphs">-/-</text>
<rect x="163.00" y="314.70" width="6.50" height="7.00" fill="#d39e8e" stroke="#c98f7f" stroke-width="1"/>
<text x="177.5" y="320.8" font-size="6.6" text-anchor="start" fill="#231f20" stroke="#231f20" stroke-width="0.3" textLength="36" lengthAdjust="spacingAndGlyphs">VavCre; Jak2</text>
<text x="214.2" y="317.8" font-size="4.6" text-anchor="start" fill="#231f20" stroke="#231f20" stroke-width="0.25" textLength="7.4" lengthAdjust="spacingAndGlyphs">+/+</text>
<text x="222.1" y="320.8" font-size="6.6" text-anchor="start" fill="#231f20" stroke="#231f20" stroke-width="0.3" textLength="18.5" lengthAdjust="spacingAndGlyphs">; Cdk6</text>
<text x="243.2" y="317.8" font-size="4.6" text-anchor="start" fill="#231f20" stroke="#231f20" stroke-width="0.25" textLength="7.8" lengthAdjust="spacingAndGlyphs">+/+</text>
<rect x="163.00" y="326.80" width="6.50" height="7.00" fill="#9da2bc" stroke="#9095b1" stroke-width="1"/>
<text x="177.5" y="333.3" font-size="6.6" text-anchor="start" fill="#231f20" stroke="#231f20" stroke-width="0.3" textLength="36" lengthAdjust="spacingAndGlyphs">VavCre; Jak2</text>
<text x="214.2" y="330.3" font-size="4.6" text-anchor="start" fill="#231f20" stroke="#231f20" stroke-width="0.25" textLength="7.4" lengthAdjust="spacingAndGlyphs">+/+</text>
<text x="222.1" y="333.3" font-size="6.6" text-anchor="start" fill="#231f20" stroke="#231f20" stroke-width="0.3" textLength="18.5" lengthAdjust="spacingAndGlyphs">; Cdk6</text>
<text x="243.2" y="330.3" font-size="4.6" text-anchor="start" fill="#231f20" stroke="#231f20" stroke-width="0.25" textLength="4.3" lengthAdjust="spacingAndGlyphs">-/-</text>
<text x="268.7" y="188.8" font-size="13.2" text-anchor="start" fill="#231f20" stroke="#231f20" stroke-width="0.3" textLength="8.3" lengthAdjust="spacingAndGlyphs">D</text>
<text x="329.2" y="189.6" font-size="9.4" text-anchor="start" fill="#231f20" stroke="#231f20" stroke-width="0.22" textLength="18.2" lengthAdjust="spacingAndGlyphs">CMP</text>
<text x="397.2" y="189.5" font-size="9.4" text-anchor="start" fill="#231f20" stroke="#231f20" stroke-width="0.22" textLength="17.5" lengthAdjust="spacingAndGlyphs">MEP</text>
<text x="472.5" y="189.6" font-size="9.4" text-anchor="start" fill="#231f20" stroke="#231f20" stroke-width="0.22" textLength="18.8" lengthAdjust="spacingAndGlyphs">GMP</text>
<g transform="translate(278.9 325.6) rotate(-90)"><text x="0" y="0" font-size="9.8" fill="#231f20" stroke="#231f20" stroke-width="0.25" lengthAdjust="spacingAndGlyphs" textLength="85">Total numbers / 1×10</text><text x="85.4" y="-2.4" font-size="7.6" fill="#231f20" stroke="#231f20" stroke-width="0.25" lengthAdjust="spacingAndGlyphs" textLength="4.1">6</text><text x="91.9" y="0" font-size="9.8" fill="#231f20" stroke="#231f20" stroke-width="0.25" lengthAdjust="spacingAndGlyphs" textLength="31.6">BM cells</text></g>
<line x1="305.5" y1="218.3" x2="305.5" y2="306.2" stroke="#1a1a1a" stroke-width="1.2"/>
<line x1="302.6" y1="221.5" x2="305.6" y2="221.5" stroke="#1a1a1a" stroke-width="1.2"/>
<text x="300.1" y="224.35000000000002" font-size="7.1" text-anchor="end" fill="#231f20" stroke="#231f20" stroke-width="0.22" textLength="14.2" lengthAdjust="spacingAndGlyphs">6000</text>
<line x1="302.6" y1="250.5" x2="305.6" y2="250.5" stroke="#1a1a1a" stroke-width="1.2"/>
<text x="300.1" y="252.55" font-size="7.1" text-anchor="end" fill="#231f20" stroke="#231f20" stroke-width="0.22" textLength="14.2" lengthAdjust="spacingAndGlyphs">4000</text>
<line x1="302.6" y1="278.5" x2="305.6" y2="278.5" stroke="#1a1a1a" stroke-width="1.2"/>
<text x="300.1" y="280.85" font-size="7.1" text-anchor="end" fill="#231f20" stroke="#231f20" stroke-width="0.22" textLength="14.2" lengthAdjust="spacingAndGlyphs">2000</text>
<line x1="302.6" y1="306.5" x2="305.6" y2="306.5" stroke="#1a1a1a" stroke-width="1.2"/>
<text x="300.1" y="308.75" font-size="7.1" text-anchor="end" fill="#231f20" stroke="#231f20" stroke-width="0.22" textLength="3.55" lengthAdjust="spacingAndGlyphs">0</text>
<line x1="305.3" y1="306.5" x2="509.5" y2="306.5" stroke="#1a1a1a" stroke-width="1.2"/>
<rect x="308.60" y="241.70" width="8.90" height="64.50" fill="#a03545" stroke="#922a3a" stroke-width="1"/>
<line x1="313.5" y1="229.7" x2="313.5" y2="241.2" stroke="#1f1f1f" stroke-width="1.1"/>
<line x1="310.15000000000003" y1="229.5" x2="315.95" y2="229.5" stroke="#1f1f1f" stroke-width="1.1"/>
<line x1="313.5" y1="306.2" x2="313.5" y2="309" stroke="#1a1a1a" stroke-width="1.1"/>
<rect x="324.10" y="237.20" width="9.00" height="69.00" fill="#4e6384" stroke="#455a7b" stroke-width="1"/>
<line x1="328.5" y1="228.6" x2="328.5" y2="236.7" stroke="#1f1f1f" stroke-width="1.1"/>
<line x1="325.70000000000005" y1="228.5" x2="331.5" y2="228.5" stroke="#1f1f1f" stroke-width="1.1"/>
<line x1="328.5" y1="306.2" x2="328.5" y2="309" stroke="#1a1a1a" stroke-width="1.1"/>
<rect x="339.10" y="262.70" width="9.30" height="43.50" fill="#d39e8e" stroke="#c98f7f" stroke-width="1"/>
<line x1="343.5" y1="250.1" x2="343.5" y2="262.2" stroke="#1f1f1f" stroke-width="1.1"/>
<line x1="340.85" y1="250.5" x2="346.65" y2="250.5" stroke="#1f1f1f" stroke-width="1.1"/>
<line x1="343.5" y1="306.2" x2="343.5" y2="309" stroke="#1a1a1a" stroke-width="1.1"/>
<rect x="353.80" y="254.30" width="10.20" height="51.90" fill="#9da2bc" stroke="#9095b1" stroke-width="1"/>
<line x1="358.5" y1="246.2" x2="358.5" y2="253.8" stroke="#1f1f1f" stroke-width="1.1"/>
<line x1="356.0" y1="246.5" x2="361.79999999999995" y2="246.5" stroke="#1f1f1f" stroke-width="1.1"/>
<line x1="358.5" y1="306.2" x2="358.5" y2="309" stroke="#1a1a1a" stroke-width="1.1"/>
<rect x="379.50" y="288.80" width="9.90" height="17.40" fill="#a03545" stroke="#922a3a" stroke-width="1"/>
<line x1="384.5" y1="287.6" x2="384.5" y2="288.3" stroke="#1f1f1f" stroke-width="1.1"/>
<line x1="381.55" y1="287.5" x2="387.34999999999997" y2="287.5" stroke="#1f1f1f" stroke-width="1.1"/>
<line x1="384.5" y1="306.2" x2="384.5" y2="309" stroke="#1a1a1a" stroke-width="1.1"/>
<rect x="394.70" y="274.20" width="9.80" height="32.00" fill="#4e6384" stroke="#455a7b" stroke-width="1"/>
<line x1="399.5" y1="269.4" x2="399.5" y2="273.7" stroke="#1f1f1f" stroke-width="1.1"/>
<line x1="396.70000000000005" y1="269.5" x2="402.5" y2="269.5" stroke="#1f1f1f" stroke-width="1.1"/>
<line x1="399.5" y1="306.2" x2="399.5" y2="309" stroke="#1a1a1a" stroke-width="1.1"/>
<rect x="409.90" y="298.50" width="10.10" height="7.70" fill="#d39e8e" stroke="#c98f7f" stroke-width="1"/>
<line x1="414.5" y1="295.7" x2="414.5" y2="298" stroke="#1f1f1f" stroke-width="1.1"/>
<line x1="412.05" y1="295.5" x2="417.84999999999997" y2="295.5" stroke="#1f1f1f" stroke-width="1.1"/>
<line x1="414.5" y1="306.2" x2="414.5" y2="309" stroke="#1a1a1a" stroke-width="1.1"/>
<rect x="425.40" y="293.10" width="10.00" height="13.10" fill="#9da2bc" stroke="#9095b1" stroke-width="1"/>
<line x1="430.5" y1="290.7" x2="430.5" y2="292.6" stroke="#1f1f1f" stroke-width="1.1"/>
<line x1="427.5" y1="290.5" x2="433.29999999999995" y2="290.5" stroke="#1f1f1f" stroke-width="1.1"/>
<line x1="430.5" y1="306.2" x2="430.5" y2="309" stroke="#1a1a1a" stroke-width="1.1"/>
<rect x="450.90" y="264.10" width="10.00" height="42.10" fill="#a03545" stroke="#922a3a" stroke-width="1"/>
<line x1="455.5" y1="261" x2="455.5" y2="263.6" stroke="#1f1f1f" stroke-width="1.1"/>
<line x1="453.0" y1="261.5" x2="458.79999999999995" y2="261.5" stroke="#1f1f1f" stroke-width="1.1"/>
<line x1="455.5" y1="306.2" x2="455.5" y2="309" stroke="#1a1a1a" stroke-width="1.1"/>
<rect x="466.40" y="242.30" width="9.70" height="63.90" fill="#4e6384" stroke="#455a7b" stroke-width="1"/>
<line x1="471.5" y1="235.7" x2="471.5" y2="241.8" stroke="#1f1f1f" stroke-width="1.1"/>
<line x1="468.35" y1="235.5" x2="474.15" y2="235.5" stroke="#1f1f1f" stroke-width="1.1"/>
<line x1="471.5" y1="306.2" x2="471.5" y2="309" stroke="#1a1a1a" stroke-width="1.1"/>
<rect x="481.60" y="285.00" width="9.60" height="21.20" fill="#d39e8e" stroke="#c98f7f" stroke-width="1"/>
<line x1="486.5" y1="283.8" x2="486.5" y2="284.5" stroke="#1f1f1f" stroke-width="1.1"/>
<line x1="483.5" y1="283.5" x2="489.29999999999995" y2="283.5" stroke="#1f1f1f" stroke-width="1.1"/>
<line x1="486.5" y1="306.2" x2="486.5" y2="309" stroke="#1a1a1a" stroke-width="1.1"/>
<rect x="496.70" y="263.50" width="10.00" height="42.70" fill="#9da2bc" stroke="#9095b1" stroke-width="1"/>
<line x1="501.5" y1="261.2" x2="501.5" y2="263" stroke="#1f1f1f" stroke-width="1.1"/>
<line x1="498.8" y1="261.5" x2="504.59999999999997" y2="261.5" stroke="#1f1f1f" stroke-width="1.1"/>
<line x1="501.5" y1="306.2" x2="501.5" y2="309" stroke="#1a1a1a" stroke-width="1.1"/>
<line x1="311.6" y1="201.2" x2="325" y2="201.2" stroke="#353535" stroke-width="1.25"/>
<text x="319.1" y="199.2" font-size="6.7" text-anchor="middle" fill="#231f20" stroke="#231f20" stroke-width="0.3" textLength="9.8" lengthAdjust="spacingAndGlyphs">n.s.</text>
<line x1="311.6" y1="208.7" x2="341.7" y2="208.7" stroke="#353535" stroke-width="1.25"/>
<rect x="316.18" y="204.68" width="1.84" height="1.84" fill="#3a3a3a"/>
<line x1="311.6" y1="216.5" x2="359" y2="216.5" stroke="#353535" stroke-width="1.25"/>
<rect x="316.18" y="212.38" width="1.84" height="1.84" fill="#3a3a3a"/>
<line x1="334.4" y1="223.2" x2="347.7" y2="223.2" stroke="#353535" stroke-width="1.25"/>
<rect x="337.28" y="219.08" width="1.84" height="1.84" fill="#3a3a3a"/>
<line x1="334.4" y1="231" x2="360.7" y2="231" stroke="#353535" stroke-width="1.25"/>
<rect x="337.88" y="226.88" width="1.84" height="1.84" fill="#3a3a3a"/>
<line x1="344.2" y1="246" x2="354.4" y2="246" stroke="#353535" stroke-width="1.25"/>
<text x="349.8" y="243.29999999999998" font-size="6.7" text-anchor="middle" fill="#231f20" stroke="#231f20" stroke-width="0.3" textLength="10" lengthAdjust="spacingAndGlyphs">n.s.</text>
<line x1="386.9" y1="198.6" x2="400.2" y2="198.6" stroke="#353535" stroke-width="1.25"/>
<rect x="392.58" y="194.88" width="1.84" height="1.84" fill="#3a3a3a"/>
<line x1="386.9" y1="208.5" x2="410.9" y2="208.5" stroke="#353535" stroke-width="1.25"/>
<rect x="389.38" y="204.58" width="1.84" height="1.84" fill="#3a3a3a"/>
<rect x="392.38" y="204.58" width="1.84" height="1.84" fill="#3a3a3a"/>
<line x1="386.9" y1="216.5" x2="430.5" y2="216.5" stroke="#353535" stroke-width="1.25"/>
<rect x="389.78" y="212.38" width="1.84" height="1.84" fill="#3a3a3a"/>
<line x1="400.5" y1="224.7" x2="414" y2="224.7" stroke="#353535" stroke-width="1.25"/>
<rect x="404.08" y="220.48" width="1.84" height="1.84" fill="#3a3a3a"/>
<rect x="407.08" y="220.48" width="1.84" height="1.84" fill="#3a3a3a"/>
<line x1="401.7" y1="231.5" x2="429" y2="231.5" stroke="#353535" stroke-width="1.25"/>
<rect x="416.88" y="227.68" width="1.84" height="1.84" fill="#3a3a3a"/>
<line x1="416" y1="245.1" x2="429" y2="245.1" stroke="#353535" stroke-width="1.25"/>
<rect x="421.38" y="240.88" width="1.84" height="1.84" fill="#3a3a3a"/>
<line x1="456.3" y1="198.3" x2="469.6" y2="198.3" stroke="#353535" stroke-width="1.25"/>
<rect x="457.93" y="194.88" width="1.84" height="1.84" fill="#3a3a3a"/>
<rect x="460.93" y="194.88" width="1.84" height="1.84" fill="#3a3a3a"/>
<line x1="454.3" y1="207.3" x2="488.7" y2="207.3" stroke="#353535" stroke-width="1.25"/>
<rect x="457.78" y="203.58" width="1.84" height="1.84" fill="#3a3a3a"/>
<rect x="460.78" y="203.58" width="1.84" height="1.84" fill="#3a3a3a"/>
<rect x="463.78" y="203.58" width="1.84" height="1.84" fill="#3a3a3a"/>
<line x1="454.3" y1="217.4" x2="502.2" y2="217.4" stroke="#353535" stroke-width="1.25"/>
<rect x="457.78" y="213.58" width="1.84" height="1.84" fill="#3a3a3a"/>
<rect x="460.78" y="213.58" width="1.84" height="1.84" fill="#3a3a3a"/>
<rect x="463.78" y="213.58" width="1.84" height="1.84" fill="#3a3a3a"/>
<line x1="475.4" y1="224.7" x2="488.7" y2="224.7" stroke="#353535" stroke-width="1.25"/>
<rect x="479.78" y="220.88" width="1.84" height="1.84" fill="#3a3a3a"/>
<rect x="482.78" y="220.88" width="1.84" height="1.84" fill="#3a3a3a"/>
<line x1="475.4" y1="232" x2="503.3" y2="232" stroke="#353535" stroke-width="1.25"/>
<rect x="489.68" y="227.98" width="1.84" height="1.84" fill="#3a3a3a"/>
<line x1="487.8" y1="245.1" x2="501" y2="245.1" stroke="#353535" stroke-width="1.25"/>
<rect x="490.53" y="241.28" width="1.84" height="1.84" fill="#3a3a3a"/>
<rect x="493.53" y="241.28" width="1.84" height="1.84" fill="#3a3a3a"/>
<rect x="496.53" y="241.28" width="1.84" height="1.84" fill="#3a3a3a"/>
<rect x="308.00" y="314.30" width="6.50" height="7.00" fill="#a03545" stroke="#922a3a" stroke-width="1"/>
<text x="321.3" y="320.8" font-size="6.6" text-anchor="start" fill="#231f20" stroke="#231f20" stroke-width="0.3" textLength="38.1" lengthAdjust="spacingAndGlyphs">VavCre; JAK2</text>
<text x="359.7" y="317.8" font-size="4.6" text-anchor="start" fill="#231f20" stroke="#231f20" stroke-width="0.25" textLength="13.5" lengthAdjust="spacingAndGlyphs">V617F</text>
<text x="373.6" y="320.8" font-size="6.6" text-anchor="start" fill="#231f20" stroke="#231f20" stroke-width="0.3" textLength="18.7" lengthAdjust="spacingAndGlyphs">; Cdk6</text>
<text x="394.3" y="317.8" font-size="4.6" text-anchor="start" fill="#231f20" stroke="#231f20" stroke-width="0.25" textLength="8.7" lengthAdjust="spacingAndGlyphs">+/+</text>
<rect x="308.00" y="326.00" width="6.50" height="7.00" fill="#4e6384" stroke="#455a7b" stroke-width="1"/>
<text x="321.3" y="333.3" font-size="6.6" text-anchor="start" fill="#231f20" stroke="#231f20" stroke-width="0.3" textLength="38.1" lengthAdjust="spacingAndGlyphs">VavCre; JAK2</text>
<text x="359.7" y="330.3" font-size="4.6" text-anchor="start" fill="#231f20" stroke="#231f20" stroke-width="0.25" textLength="13.5" lengthAdjust="spacingAndGlyphs">V617F</text>
<text x="373.6" y="333.3" font-size="6.6" text-anchor="start" fill="#231f20" stroke="#231f20" stroke-width="0.3" textLength="18.7" lengthAdjust="spacingAndGlyphs">; Cdk6</text>
<text x="394.3" y="330.3" font-size="4.6" text-anchor="start" fill="#231f20" stroke="#231f20" stroke-width="0.25" textLength="5.2" lengthAdjust="spacingAndGlyphs">-/-</text>
<rect x="416.80" y="314.70" width="6.50" height="7.00" fill="#d39e8e" stroke="#c98f7f" stroke-width="1"/>
<text x="432" y="320.8" font-size="6.6" text-anchor="start" fill="#231f20" stroke="#231f20" stroke-width="0.3" textLength="36" lengthAdjust="spacingAndGlyphs">VavCre; Jak2</text>
<text x="468.7" y="317.8" font-size="4.6" text-anchor="start" fill="#231f20" stroke="#231f20" stroke-width="0.25" textLength="7.4" lengthAdjust="spacingAndGlyphs">+/+</text>
<text x="476.6" y="320.8" font-size="6.6" text-anchor="start" fill="#231f20" stroke="#231f20" stroke-width="0.3" textLength="18.5" lengthAdjust="spacingAndGlyphs">; Cdk6</text>
<text x="497.7" y="317.8" font-size="4.6" text-anchor="start" fill="#231f20" stroke="#231f20" stroke-width="0.25" textLength="7.8" lengthAdjust="spacingAndGlyphs">+/+</text>
<rect x="416.80" y="326.00" width="6.50" height="7.00" fill="#9da2bc" stroke="#9095b1" stroke-width="1"/>
<text x="432" y="333.3" font-size="6.6" text-anchor="start" fill="#231f20" stroke="#231f20" stroke-width="0.3" textLength="36" lengthAdjust="spacingAndGlyphs">VavCre; Jak2</text>
<text x="468.7" y="330.3" font-size="4.6" text-anchor="start" fill="#231f20" stroke="#231f20" stroke-width="0.25" textLength="7.4" lengthAdjust="spacingAndGlyphs">+/+</text>
<text x="476.6" y="333.3" font-size="6.6" text-anchor="start" fill="#231f20" stroke="#231f20" stroke-width="0.3" textLength="18.5" lengthAdjust="spacingAndGlyphs">; Cdk6</text>
<text x="497.7" y="330.3" font-size="4.6" text-anchor="start" fill="#231f20" stroke="#231f20" stroke-width="0.25" textLength="4.3" lengthAdjust="spacingAndGlyphs">-/-</text>
<text x="8.6" y="362" font-size="13.2" text-anchor="start" fill="#231f20" stroke="#231f20" stroke-width="0.3" textLength="5.8" lengthAdjust="spacingAndGlyphs">E</text>
<text x="112.4" y="361.8" font-size="8.8" text-anchor="start" fill="#231f20" stroke="#231f20" stroke-width="0.22" textLength="52.9" lengthAdjust="spacingAndGlyphs">Bone marrow</text>
<line x1="112.4" y1="363.5" x2="165.3" y2="363.5" stroke="#444" stroke-width="0.8"/>
<text x="129" y="375.3" font-size="9" text-anchor="start" fill="#231f20" stroke="#231f20" stroke-width="0.22" textLength="19.7" lengthAdjust="spacingAndGlyphs">Cdk6</text>
<line x1="53.8" y1="381.5" x2="223.8" y2="381.5" stroke="#333" stroke-width="1.1"/>
<path d="M75.10000000000001,388.8 H79.8 M77.45,386.3 V391.3" stroke="#333" stroke-width="0.95" fill="none"/>
<path d="M81.5,384.4 V391.3" stroke="#222" stroke-width="1.1" fill="none"/>
<path d="M83.35000000000001,388.8 H88.05 M85.7,386.3 V391.3" stroke="#333" stroke-width="0.95" fill="none"/>
<path d="M182.8,388.8 H185.0" stroke="#555" stroke-width="0.95" fill="none"/>
<path d="M186.4,384.6 V391.3" stroke="#222" stroke-width="1.1" fill="none"/>
<path d="M188.20000000000002,388.8 H190.4" stroke="#555" stroke-width="0.95" fill="none"/>
<line x1="30.5" y1="403.8" x2="30.5" y2="561.3" stroke="#555" stroke-width="1.1"/>
<text x="45.4" y="446" font-size="9.5" text-anchor="start" fill="#231f20" stroke="#231f20" stroke-width="0.22" textLength="24.4" lengthAdjust="spacingAndGlyphs" transform="rotate(-90 45.4 446)">V617F</text>
<text x="24.5" y="492.2" font-size="9.5" text-anchor="start" fill="#231f20" stroke="#231f20" stroke-width="0.22" textLength="17.2" lengthAdjust="spacingAndGlyphs" transform="rotate(-90 24.5 492.2)">Jak2</text>
<text x="43.8" y="550.9" font-size="9.3" text-anchor="start" fill="#231f20" stroke="#231f20" stroke-width="0.22" textLength="13.8" lengthAdjust="spacingAndGlyphs" transform="rotate(-90 43.8 550.9)">+/+</text>
<path d="M83.5,436.5 L83.50,402.20 A34.3,34.3 0 0 0 52.09,422.71 Z" fill="#9e3546" stroke="#9e3546" stroke-width="0.4" stroke-linejoin="round"/>
<path d="M83.5,436.5 L52.09,422.71 A34.3,34.3 0 0 0 53.86,453.75 Z" fill="#4a6287" stroke="#4a6287" stroke-width="0.4" stroke-linejoin="round"/>
<path d="M83.5,436.5 L53.86,453.75 A34.3,34.3 0 1 0 83.50,402.20 Z" fill="#78a85a" stroke="#78a85a" stroke-width="0.4" stroke-linejoin="round"/>
<path d="M191.4,436.8 L191.40,397.80 A39,39 0 0 0 152.42,438.09 Z" fill="#9e3546" stroke="#9e3546" stroke-width="0.4" stroke-linejoin="round"/>
<path d="M191.4,436.8 L152.42,438.09 A39,39 0 0 0 183.82,475.06 Z" fill="#4a6287" stroke="#4a6287" stroke-width="0.4" stroke-linejoin="round"/>
<path d="M191.4,436.8 L183.82,475.06 A39,39 0 1 0 191.40,397.80 Z" fill="#78a85a" stroke="#78a85a" stroke-width="0.4" stroke-linejoin="round"/>
<path d="M83.5,544.9 L83.50,527.50 A17.4,17.4 0 0 0 68.33,536.38 Z" fill="#9e3546" stroke="#9e3546" stroke-width="0.4" stroke-linejoin="round"/>
<path d="M83.5,544.9 L68.33,536.38 A17.4,17.4 0 0 0 66.10,544.90 Z" fill="#4a6287" stroke="#4a6287" stroke-width="0.4" stroke-linejoin="round"/>
<path d="M83.5,544.9 L66.10,544.90 A17.4,17.4 0 1 0 83.50,527.50 Z" fill="#78a85a" stroke="#78a85a" stroke-width="0.4" stroke-linejoin="round"/>
<path d="M191.5,544.9 L191.50,526.50 A18.4,18.4 0 0 0 175.79,535.31 Z" fill="#9e3546" stroke="#9e3546" stroke-width="0.4" stroke-linejoin="round"/>
<path d="M191.5,544.9 L175.79,535.31 A18.4,18.4 0 0 0 173.76,549.79 Z" fill="#4a6287" stroke="#4a6287" stroke-width="0.4" stroke-linejoin="round"/>
<path d="M191.5,544.9 L173.76,549.79 A18.4,18.4 0 1 0 191.50,526.50 Z" fill="#78a85a" stroke="#78a85a" stroke-width="0.4" stroke-linejoin="round"/>
<rect x="30.50" y="585.50" width="13.50" height="13.30" fill="#9e3546" stroke="#902a3b" stroke-width="1"/>
<rect x="30.50" y="603.80" width="13.50" height="13.30" fill="#4a6287" stroke="#42577a" stroke-width="1"/>
<rect x="30.50" y="621.80" width="13.50" height="13.30" fill="#78a85a" stroke="#6c9a50" stroke-width="1"/>
<text x="47.6" y="595" font-size="6.6" text-anchor="start" fill="#231f20" stroke="#231f20" stroke-width="0.22" textLength="42.5" lengthAdjust="spacingAndGlyphs">LT-HSC (CD150</text>
<rect x="90.10" y="591.35" width="2" height="0.7" fill="#555"/>
<rect x="90.75" y="590.70" width="0.7" height="2" fill="#555"/>
<text x="92" y="595" font-size="6.6" text-anchor="start" fill="#231f20" stroke="#231f20" stroke-width="0.22" textLength="17.8" lengthAdjust="spacingAndGlyphs">CD48</text>
<rect x="110.15" y="591.35" width="2" height="0.7" fill="#555"/>
<text x="113.5" y="595" font-size="6.6" text-anchor="start" fill="#231f20" stroke="#231f20" stroke-width="0.22" textLength="13.6" lengthAdjust="spacingAndGlyphs">LSK)</text>
<text x="47.6" y="612.8" font-size="6.6" text-anchor="start" fill="#231f20" stroke="#231f20" stroke-width="0.22" textLength="44.8" lengthAdjust="spacingAndGlyphs">ST-HSC (CD150</text>
<rect x="92.35" y="609.15" width="2" height="0.7" fill="#555"/>
<rect x="93.00" y="608.50" width="0.7" height="2" fill="#555"/>
<text x="94.5" y="612.8" font-size="6.6" text-anchor="start" fill="#231f20" stroke="#231f20" stroke-width="0.22" textLength="16" lengthAdjust="spacingAndGlyphs">CD48</text>
<rect x="111.25" y="609.15" width="2" height="0.7" fill="#555"/>
<rect x="111.90" y="608.50" width="0.7" height="2" fill="#555"/>
<text x="115.7" y="612.8" font-size="6.6" text-anchor="start" fill="#231f20" stroke="#231f20" stroke-width="0.22" textLength="12.1" lengthAdjust="spacingAndGlyphs">LSK)</text>
<text x="47.6" y="630.9" font-size="6.6" text-anchor="start" fill="#231f20" stroke="#231f20" stroke-width="0.22" textLength="36.1" lengthAdjust="spacingAndGlyphs">MPP (CD150</text>
<rect x="83.60" y="627.25" width="2" height="0.7" fill="#555"/>
<text x="85.6" y="630.9" font-size="6.6" text-anchor="start" fill="#231f20" stroke="#231f20" stroke-width="0.22" textLength="16.8" lengthAdjust="spacingAndGlyphs">CD48</text>
<rect x="102.85" y="627.25" width="2" height="0.7" fill="#555"/>
<rect x="103.50" y="626.60" width="0.7" height="2" fill="#555"/>
<text x="106.5" y="630.9" font-size="6.6" text-anchor="start" fill="#231f20" stroke="#231f20" stroke-width="0.22" textLength="13.2" lengthAdjust="spacingAndGlyphs">LSK)</text>
<text x="269.5" y="362" font-size="13.2" text-anchor="start" fill="#231f20" stroke="#231f20" stroke-width="0.3" textLength="5.5" lengthAdjust="spacingAndGlyphs">F</text>
<text x="367.4" y="361.8" font-size="8.8" text-anchor="start" fill="#231f20" stroke="#231f20" stroke-width="0.22" textLength="52.9" lengthAdjust="spacingAndGlyphs">Bone marrow</text>
<line x1="367.4" y1="363.5" x2="420.3" y2="363.5" stroke="#444" stroke-width="0.8"/>
<text x="384" y="375.3" font-size="9" text-anchor="start" fill="#231f20" stroke="#231f20" stroke-width="0.22" textLength="19.7" lengthAdjust="spacingAndGlyphs">Cdk6</text>
<line x1="309.3" y1="381.5" x2="478.8" y2="381.5" stroke="#333" stroke-width="1.1"/>
<path d="M331.84999999999997,389 H336.55 M334.2,386.5 V391.5" stroke="#333" stroke-width="0.95" fill="none"/>
<path d="M338.4,384.9 V391.3" stroke="#222" stroke-width="1.1" fill="none"/>
<path d="M340.15,389 H344.85 M342.5,386.5 V391.5" stroke="#333" stroke-width="0.95" fill="none"/>
<path d="M439.75,388.9 H441.95000000000005" stroke="#555" stroke-width="0.95" fill="none"/>
<path d="M443.4,384.9 V391.3" stroke="#222" stroke-width="1.1" fill="none"/>
<path d="M445.2,388.9 H447.40000000000003" stroke="#555" stroke-width="0.95" fill="none"/>
<line x1="282.5" y1="410" x2="282.5" y2="568.8" stroke="#555" stroke-width="1.1"/>
<text x="297.6" y="446.1" font-size="9.5" text-anchor="start" fill="#231f20" stroke="#231f20" stroke-width="0.22" textLength="24" lengthAdjust="spacingAndGlyphs" transform="rotate(-90 297.6 446.1)">V617F</text>
<text x="276.6" y="498.9" font-size="9.5" text-anchor="start" fill="#231f20" stroke="#231f20" stroke-width="0.22" textLength="17" lengthAdjust="spacingAndGlyphs" transform="rotate(-90 276.6 498.9)">Jak2</text>
<text x="297.1" y="550.6" font-size="9.3" text-anchor="start" fill="#231f20" stroke="#231f20" stroke-width="0.22" textLength="13.6" lengthAdjust="spacingAndGlyphs" transform="rotate(-90 297.1 550.6)">+/+</text>
<path d="M336.4,437.1 L336.40,403.10 A34,34 0 0 0 329.74,470.44 Z" fill="#9e3546" stroke="#9e3546" stroke-width="0.4" stroke-linejoin="round"/>
<path d="M336.4,437.1 L329.74,470.44 A34,34 0 0 0 366.59,421.45 Z" fill="#4a6287" stroke="#4a6287" stroke-width="0.4" stroke-linejoin="round"/>
<path d="M336.4,437.1 L366.59,421.45 A34,34 0 0 0 336.40,403.10 Z" fill="#78a85a" stroke="#78a85a" stroke-width="0.4" stroke-linejoin="round"/>
<path d="M447.9,437 L447.90,396.50 A40.5,40.5 0 0 0 423.92,469.64 Z" fill="#9e3546" stroke="#9e3546" stroke-width="0.4" stroke-linejoin="round"/>
<path d="M447.9,437 L423.92,469.64 A40.5,40.5 0 0 0 483.86,418.36 Z" fill="#4a6287" stroke="#4a6287" stroke-width="0.4" stroke-linejoin="round"/>
<path d="M447.9,437 L483.86,418.36 A40.5,40.5 0 0 0 447.90,396.50 Z" fill="#78a85a" stroke="#78a85a" stroke-width="0.4" stroke-linejoin="round"/>
<path d="M336.6,548.6 L336.60,522.20 A26.4,26.4 0 0 0 329.32,573.98 Z" fill="#9e3546" stroke="#9e3546" stroke-width="0.4" stroke-linejoin="round"/>
<path d="M336.6,548.6 L329.32,573.98 A26.4,26.4 0 0 0 357.35,532.27 Z" fill="#4a6287" stroke="#4a6287" stroke-width="0.4" stroke-linejoin="round"/>
<path d="M336.6,548.6 L357.35,532.27 A26.4,26.4 0 0 0 336.60,522.20 Z" fill="#78a85a" stroke="#78a85a" stroke-width="0.4" stroke-linejoin="round"/>
<path d="M447.8,548.8 L447.80,514.80 A34,34 0 0 0 432.68,579.25 Z" fill="#9e3546" stroke="#9e3546" stroke-width="0.4" stroke-linejoin="round"/>
<path d="M447.8,548.8 L432.68,579.25 A34,34 0 0 0 474.95,528.34 Z" fill="#4a6287" stroke="#4a6287" stroke-width="0.4" stroke-linejoin="round"/>
<path d="M447.8,548.8 L474.95,528.34 A34,34 0 0 0 447.80,514.80 Z" fill="#78a85a" stroke="#78a85a" stroke-width="0.4" stroke-linejoin="round"/>
<rect x="282.60" y="585.50" width="13.70" height="13.70" fill="#9e3546" stroke="#902a3b" stroke-width="1"/>
<rect x="282.60" y="603.90" width="13.70" height="13.40" fill="#4a6287" stroke="#42577a" stroke-width="1"/>
<rect x="282.60" y="622.50" width="13.70" height="13.50" fill="#78a85a" stroke="#6c9a50" stroke-width="1"/>
<text x="300.2" y="594.2" font-size="7.1" text-anchor="start" fill="#231f20" stroke="#231f20" stroke-width="0.05" textLength="13.5" lengthAdjust="spacingAndGlyphs">CMP</text>
<text x="300.2" y="612.7" font-size="7.1" text-anchor="start" fill="#231f20" stroke="#231f20" stroke-width="0.05" textLength="13.8" lengthAdjust="spacingAndGlyphs">GMP</text>
<text x="300.5" y="631.4" font-size="7.1" text-anchor="start" fill="#231f20" stroke="#231f20" stroke-width="0.05" textLength="12.7" lengthAdjust="spacingAndGlyphs">MEP</text>
</svg></body></html>
